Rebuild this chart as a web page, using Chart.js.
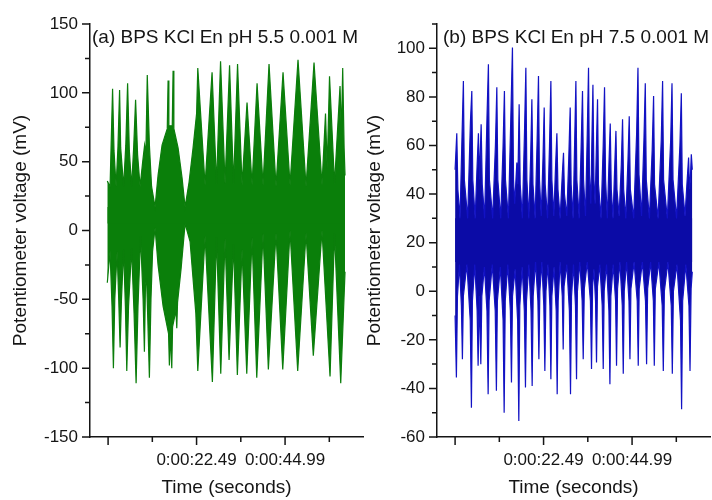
<!DOCTYPE html>
<html>
<head>
<meta charset="utf-8">
<script src="https://cdn.jsdelivr.net/npm/chart.js@4/dist/chart.umd.min.js"></script>
<style>
  html, body { margin: 0; padding: 0; background: #fff; }
  #wrap { position: relative; width: 712px; height: 500px; }
  #wrap canvas { position: absolute; left: 0; top: 0; }
</style>
</head>
<body>
<div id="wrap">
  <canvas id="chartA" width="712" height="500"></canvas>
  <canvas id="chartB" width="712" height="500"></canvas>
</div>
<script>
// signal envelopes, [time (s), mV]
const upperA = [[-0.2,36],[0.5,32],[0.75,60],[1.14,103],[1.5,58],[2.03,32],[2.5,60],[2.92,102],[3.2,60],[3.94,32],
  [4.5,62],[4.96,107],[5.4,58],[5.97,32],[6.5,60],[6.99,95],[7.5,55],[8.13,32],[8.8,50],[9.28,62],
  [9.6,55],[9.96,113],[10.5,62],[11.05,32],[11.94,17],[12.7,40],[13.72,62],[15.04,74],[15.25,109],[15.45,76],
  [16.31,76],[16.52,116],[16.72,74],[17.79,60],[18.81,38],[19.57,17],[20.58,35],[21.6,60],[22.5,85],[22.8,118],
  [24.65,33],[26.43,115],[27.57,34],[28.59,123],[29.73,34],[30.88,120],[31.89,34],[32.91,121],[34.05,33],[35.32,93],
  [36.6,33],[37.87,107],[39.39,33],[40.91,121],[42.69,32],[44.47,115],[46.25,33],[48.28,124],[50.32,32],[52.35,122],
  [54.38,33],[55.27,85],[55.7,45],[56.29,112],[57.56,34],[58.96,105],[59.3,70],[59.64,118],[60.0,60],[60.23,40]];

const lowerA = [[-0.2,-38],[0.5,-15],[1.0,-55],[1.35,-100],[1.7,-50],[2.29,-15],[2.7,-50],[3.05,-85],[3.4,-50],[3.94,-14],
  [4.4,-55],[4.75,-102],[5.2,-55],[5.97,-13],[6.6,-60],[7.12,-111],[7.6,-55],[8.26,-4],[8.9,-50],[9.23,-88],
  [9.5,-40],[9.78,-35],[10.1,-65],[10.5,-107],[10.9,-50],[11.31,-15],[11.94,2],[12.7,-25],[13.98,-55],[15.37,-75],
  [15.58,-98],[15.78,-75],[15.99,-75],[16.19,-100],[16.39,-70],[17.25,-58],[17.46,-71],[17.66,-52],[18.55,-28],[19.57,5],
  [20.84,-8],[22.3,-60],[22.8,-102],[24.65,-4],[26.51,-110],[27.57,-5],[28.64,-104],[29.73,-6],[30.75,-94],[31.89,-10],
  [32.86,-105],[34.05,-14],[35.25,-104],[36.6,-5],[37.79,-107],[39.39,-2],[40.74,-101],[42.69,-2],[44.4,-101],[46.25,0],
  [48.2,-102],[50.32,-2],[52.17,-91],[54.38,0],[56.42,-106],[57.56,-2],[59.14,-111],[60.23,-30]];

const upperB = [[0,50],[0.43,65],[0.7,42],[1.25,30],[1.76,64],[2.11,86.5],[2.35,46],[3.2,30],[3.9,70],[4.25,82.4],
  [4.5,46],[5.1,30],[5.6,52],[5.93,65],[6.2,46],[6.62,68.7],[6.9,44],[7.5,30],[8.1,71],[8.47,93.4],
  [8.72,46],[9.55,30],[10.25,60],[10.61,84],[10.86,46],[11.6,30],[12.2,60],[12.54,82.4],[12.8,46],[13.55,30],
  [14.2,74],[14.58,100.3],[14.85,46],[15.15,36],[15.7,53],[15.95,44],[16.28,77],[16.55,44],[17.1,30],[17.65,66],
  [17.99,92],[18.25,46],[18.75,30],[19.2,55],[19.52,79],[19.8,44],[20.35,30],[20.85,62],[21.2,88.6],[21.45,46],
  [21.9,31],[22.35,55],[22.65,75.6],[22.9,44],[23.5,30],[24.0,60],[24.35,86.5],[24.6,46],[25.1,31],[25.55,52],
  [25.88,65],[26.15,42],[26.7,30],[27.25,48],[27.56,57],[27.8,40],[28.4,31],[28.9,55],[29.26,75.6],[29.5,44],
  [30.0,30],[30.4,62],[30.71,86.5],[30.95,46],[31.55,30],[32.05,60],[32.39,82.4],[32.65,46],[33.15,31],[33.6,65],
  [33.92,92],[34.15,48],[34.5,36],[34.75,60],[35.04,85],[35.3,46],[35.6,36],[35.9,58],[36.21,79],[36.45,44],
  [37.1,30],[37.65,60],[37.99,84],[38.25,46],[38.7,30],[39.1,52],[39.44,69],[39.7,42],[40.15,30],[40.55,50],
  [40.89,66],[41.15,42],[41.7,31],[42.25,52],[42.57,70.8],[42.85,42],[43.4,30],[43.95,54],[44.27,72],[44.55,42],
  [45.4,30],[46.15,65],[46.49,92],[46.75,48],[47.4,31],[48.0,62],[48.35,85.6],[48.6,46],[49.4,30],[50.1,58],
  [50.46,80.4],[50.7,44],[51.6,30],[52.4,62],[52.75,86.5],[53.0,46],[53.95,30],[54.8,62],[55.14,85.6],[55.4,46],
  [56.3,30],[57.15,60],[57.51,81.5],[57.75,44],[58.45,31],[59.0,46],[59.36,55],[59.6,42],[59.8,46],[60.05,56.4],
  [60.3,50]];

const lowerB = [[0,-10],[0.33,-35.5],[0.6,-2],[1.1,11],[1.6,-6],[1.86,-28],[2.1,-2],[3.0,11],[3.85,-12],[4.15,-48],
  [4.4,-4],[5.0,11],[5.6,-8],[5.85,-30.7],[6.15,-2],[6.54,-30],[6.8,-2],[7.45,10],[8.1,-8],[8.4,-42.4],
  [8.65,-4],[9.45,11],[10.2,-8],[10.5,-41],[10.75,-4],[11.5,10],[12.2,-12],[12.47,-50],[12.75,-4],[13.4,11],
  [14.05,-8],[14.33,-37.6],[14.6,-2],[15.25,9],[15.9,-12],[16.2,-53.4],[16.45,-6],[17.05,10],[17.6,-8],[17.89,-39.6],
  [18.15,-4],[18.75,11],[19.3,-8],[19.59,-39],[19.85,-2],[20.45,12],[21.05,-4],[21.3,-28],[21.55,0],[22.05,12],
  [22.55,-6],[22.82,-32.8],[23.1,0],[23.6,11],[24.1,-6],[24.35,-36.2],[24.6,-2],[25.15,10],[25.7,-8],[25.95,-42.4],
  [26.2,-4],[26.7,12],[27.25,-2],[27.48,-24],[27.7,2],[28.4,11],[29.05,-8],[29.34,-42.4],[29.6,-2],[30.1,11],
  [30.6,-6],[30.87,-36.2],[31.1,0],[31.7,12],[32.3,-4],[32.57,-28],[32.85,1],[33.6,12],[34.4,-4],[34.68,-32],
  [34.95,2],[35.3,9],[35.7,-4],[35.95,-29.3],[36.2,2],[36.8,11],[37.4,-6],[37.66,-32],[37.9,0],[38.5,11],
  [39.1,-8],[39.36,-38.3],[39.6,-2],[40.2,11],[40.8,-4],[41.04,-30.7],[41.3,1],[41.9,12],[42.5,-6],[42.75,-34],
  [43.0,0],[43.6,12],[44.2,-4],[44.45,-28],[44.7,1],[45.5,12],[46.3,-4],[46.56,-30.7],[46.8,1],[47.6,12],
  [48.4,-4],[48.68,-30],[48.95,1],[49.7,12],[50.4,-4],[50.64,-30.7],[50.9,1],[51.8,12],[52.65,-6],[52.93,-32.8],
  [53.2,0],[54.1,12],[54.95,-6],[55.22,-34],[55.5,0],[56.4,11],[57.3,-12],[57.58,-48.6],[57.85,-4],[58.65,11],
  [59.45,-6],[59.72,-32.8],[60.0,1],[60.3,8]];

// axis ticks
const xMajor = [0, 22.49, 44.99];
const xMinor = [11.245, 33.735, 56.235];
const xLabels = ['', '0:00:22.49', '0:00:44.99'];
const yMajorA = [-150, -100, -50, 0, 50, 100, 150];
const yMinorA = [-125, -75, -25, 25, 75, 125];
const yMajorB = [-60, -40, -20, 0, 20, 40, 60, 80, 100];
const yMinorB = [-50, -30, -10, 10, 30, 50, 70, 90, 110];

const FONT = "'Liberation Sans', Arial, sans-serif";
const INK = '#151515';

function toPoints(pairs) {
  return pairs.map(p => ({x: p[0], y: p[1]}));
}

// short minor / long major tick marks, drawn outside the axes
const tickMarks = {
  id: 'tickMarks',
  afterDatasetsDraw(chart, args, o) {
    const ctx = chart.ctx, x = chart.scales.x, y = chart.scales.y;
    ctx.save();
    ctx.strokeStyle = INK;
    ctx.lineWidth = 1.5;
    ctx.beginPath();
    const xt = (v, len) => { const p = x.getPixelForValue(v); ctx.moveTo(p, x.top); ctx.lineTo(p, x.top + len); };
    const yt = (v, len) => { const p = y.getPixelForValue(v); ctx.moveTo(y.right, p); ctx.lineTo(y.right - len, p); };
    o.xMajor.forEach(v => xt(v, 8));
    o.xMinor.forEach(v => xt(v, 5));
    o.yMajor.forEach(v => yt(v, 8));
    o.yMinor.forEach(v => yt(v, 5));
    ctx.stroke();
    ctx.restore();
  }
};

// panel caption written inside the plot, top left
const panelTitle = {
  id: 'panelTitle',
  afterDraw(chart, args, o) {
    const ctx = chart.ctx;
    ctx.save();
    ctx.font = '19px ' + FONT;
    ctx.fillStyle = INK;
    ctx.textBaseline = 'middle';
    ctx.fillText(o.text, chart.chartArea.left + o.dx, 38);
    ctx.restore();
  }
};

function makePanel(id, p) {
  // upper envelope fills down past the lower band edge and vice versa,
  // so the two fills overlap and leave no seam in the middle
  const envelope = (pairs, floor) => ({
    data: toPoints(pairs),
    borderColor: p.line,
    backgroundColor: p.fill,
    borderWidth: 1.2,
    pointRadius: 0,
    tension: 0,
    fill: {value: floor}
  });
  return new Chart(document.getElementById(id), {
    type: 'line',
    data: {datasets: [envelope(p.upper, p.bandLow), envelope(p.lower, p.bandHigh)]},
    options: {
      responsive: false,
      animation: false,
      events: [],
      layout: {padding: {left: p.padLeft, right: p.padRight, top: 24, bottom: 0}},
      scales: {
        x: {
          type: 'linear', min: -4.6, max: 64.8,
          afterBuildTicks: s => { s.ticks = xMajor.map(v => ({value: v})); },
          afterFit: s => { s.height = 63; },
          grid: {display: false, drawTicks: true, tickLength: 8},
          border: {display: true, color: INK, width: 1.5},
          ticks: {
            padding: 5, color: INK, maxRotation: 0, autoSkip: false,
            font: {family: FONT, size: 17},
            callback: (v, i) => xLabels[i]
          },
          title: {display: true, text: 'Time (seconds)', color: INK,
                  font: {family: FONT, size: 19}, padding: {top: 0, bottom: 1}}
        },
        y: {
          min: p.yMin, max: p.yMax,
          afterBuildTicks: s => { s.ticks = p.yMajor.map(v => ({value: v})); },
          afterFit: s => { s.width = p.yWidth; },
          grid: {display: false, drawTicks: true, tickLength: 8},
          border: {display: true, color: INK, width: 1.5},
          ticks: {
            padding: 4, color: INK, autoSkip: false,
            font: {family: FONT, size: 17},
            callback: v => String(v)
          },
          title: {display: true, text: 'Potentiometer voltage (mV)', color: INK,
                  font: {family: FONT, size: 19}, padding: {top: p.titlePad, bottom: 0}}
        }
      },
      plugins: {
        legend: {display: false},
        tooltip: {enabled: false},
        tickMarks: {xMajor: xMajor, xMinor: xMinor, yMajor: p.yMajor, yMinor: p.yMinor},
        panelTitle: {text: p.title, dx: p.titleDx}
      }
    },
    plugins: [tickMarks, panelTitle]
  });
}

makePanel('chartA', {
  upper: upperA, lower: lowerA, bandLow: 5, bandHigh: 17,
  line: '#0b7d0b', fill: '#0a7f0a',
  yMin: -150, yMax: 150, yMajor: yMajorA, yMinor: yMinorA,
  padLeft: 0, padRight: 349, yWidth: 90, titlePad: 9,
  title: '(a) BPS KCl En pH 5.5 0.001 M', titleDx: 2
});

makePanel('chartB', {
  upper: upperB, lower: lowerB, bandLow: 12, bandHigh: 30,
  line: '#1212c4', fill: '#0b0ba6',
  yMin: -60, yMax: 110, yMajor: yMajorB, yMinor: yMinorB,
  padLeft: 355, padRight: 2, yWidth: 82, titlePad: 8,
  title: '(b) BPS KCl En pH 7.5 0.001 M', titleDx: 6
});
</script>
</body>
</html>
